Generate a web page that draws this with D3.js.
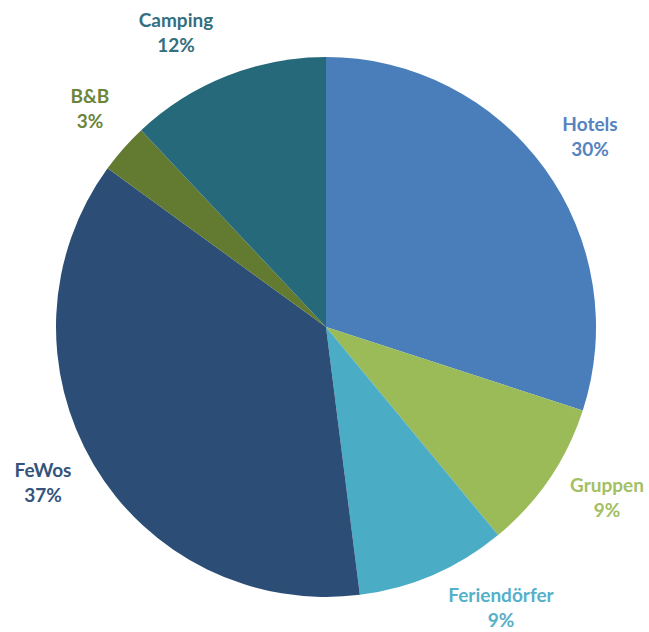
<!DOCTYPE html>
<html>
<head>
<meta charset="utf-8">
<script src="https://cdn.jsdelivr.net/npm/d3@7"></script>
<style>
  body { margin: 0; background: #fff; }
  text { font-family: Lato, "Open Sans", sans-serif; font-weight: bold; }
</style>
</head>
<body>
<div id="chart"></div>
<script>
// slices clockwise from 12 o'clock
var categories = ["Hotels", "Gruppen", "Feriendörfer", "FeWos", "B&B", "Camping"];
var shares = [30, 9, 9, 37, 3, 12];
var sliceColours = ["#4a7ebb", "#9bbb59", "#4bacc6", "#2c4d75", "#637a31", "#25697a"];
var labelColours = ["#5583c0", "#a3c064", "#55b0c9", "#35547c", "#6c853a", "#336f7f"];
// label anchor points (centre x, baseline of first line)
var labelPos = [[590, 131], [607, 492], [501, 602], [43, 477], [90, 103], [176, 27]];

var width = 649, height = 632;
var cx = 326, cy = 327, radius = 270;

var svg = d3.select("#chart").append("svg")
    .attr("width", width)
    .attr("height", height);

var data = categories.map(function (c, i) {
    return { name: c, value: shares[i], colour: sliceColours[i], label: labelColours[i], pos: labelPos[i] };
});

var pie = d3.pie()
    .sort(null)
    .value(function (d) { return d.value; });

var arc = d3.arc()
    .innerRadius(0)
    .outerRadius(radius);

svg.append("g")
    .attr("transform", "translate(" + cx + "," + cy + ")")
    .selectAll("path")
    .data(pie(data))
    .enter()
    .append("path")
    .attr("d", arc)
    .attr("fill", function (d) { return d.data.colour; });

var labels = svg.selectAll("text.lbl")
    .data(data)
    .enter()
    .append("text")
    .attr("class", "lbl")
    .attr("text-anchor", "middle")
    .attr("font-size", 19)
    .attr("fill", function (d) { return d.label; });

labels.append("tspan")
    .attr("x", function (d) { return d.pos[0]; })
    .attr("y", function (d) { return d.pos[1]; })
    .text(function (d) { return d.name; });

labels.append("tspan")
    .attr("x", function (d) { return d.pos[0]; })
    .attr("y", function (d) { return d.pos[1] + 25; })
    .text(function (d) { return d.value + "%"; });
</script>
</body>
</html>
